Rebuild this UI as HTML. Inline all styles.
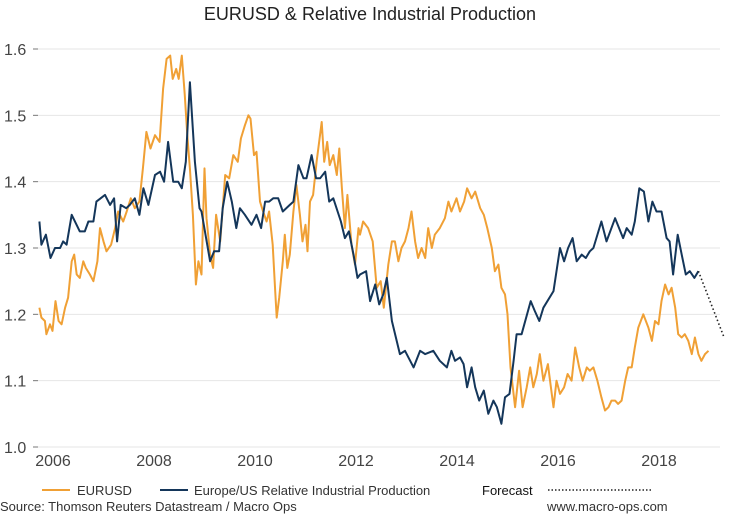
<!DOCTYPE html>
<html><head><meta charset="utf-8"><style>
body{margin:0;background:#fff;}
svg text{font-family:"Liberation Sans",Arial,sans-serif;}
</style></head><body>
<svg width="736" height="518" viewBox="0 0 736 518" xmlns="http://www.w3.org/2000/svg">
<text x="370" y="20" text-anchor="middle" font-size="18" fill="#222">EURUSD &amp; Relative Industrial Production</text>
<g id="grid"></g>
<g id="axes"></g>
<g id="series"></g>
<g>
<line x1="42" y1="490" x2="70" y2="490" stroke="#f0a035" stroke-width="2"/>
<text x="77" y="495" font-size="13" fill="#333">EURUSD</text>
<line x1="160" y1="490" x2="188" y2="490" stroke="#14365a" stroke-width="2"/>
<text x="194" y="495" font-size="13" fill="#333">Europe/US Relative Industrial Production</text>
<text x="482" y="495" font-size="13" fill="#111">Forecast</text>
<line x1="548" y1="490" x2="653" y2="490" stroke="#222" stroke-width="1.6" stroke-dasharray="1.5 2"/>
</g>
<text x="0" y="511" font-size="13" fill="#333">Source: Thomson Reuters Datastream / Macro Ops</text>
<text x="547" y="511" font-size="13" fill="#333">www.macro-ops.com</text>
</svg>
<script>
const yTicks=[1.0,1.1,1.2,1.3,1.4,1.5,1.6];
const yTickLabels=["1.0","1.1","1.2","1.3","1.4","1.5","1.6"];
const xTicks=[2006,2008,2010,2012,2014,2016,2018];
const xTickLabels=["2006","2008","2010","2012","2014","2016","2018"];
const ipDates=[2005.73,2005.77,2005.86,2005.95,2006.04,2006.14,2006.20,2006.27,2006.37,2006.53,2006.63,2006.70,2006.80,2006.86,2007.03,2007.13,2007.21,2007.27,2007.34,2007.45,2007.52,2007.62,2007.71,2007.79,2007.89,2008.02,2008.12,2008.20,2008.28,2008.38,2008.48,2008.55,2008.63,2008.71,2008.81,2008.90,2008.94,2009.11,2009.19,2009.29,2009.36,2009.45,2009.54,2009.63,2009.70,2009.80,2009.93,2010.03,2010.12,2010.20,2010.28,2010.36,2010.46,2010.55,2010.69,2010.76,2010.86,2010.96,2011.02,2011.12,2011.21,2011.29,2011.39,2011.47,2011.55,2011.70,2011.78,2011.86,2011.95,2012.03,2012.08,2012.20,2012.28,2012.38,2012.46,2012.54,2012.61,2012.71,2012.87,2012.97,2013.14,2013.27,2013.37,2013.53,2013.66,2013.80,2013.89,2013.96,2014.06,2014.13,2014.20,2014.29,2014.36,2014.44,2014.53,2014.62,2014.72,2014.79,2014.88,2014.95,2015.04,2015.12,2015.18,2015.28,2015.46,2015.54,2015.63,2015.71,2015.91,2016.04,2016.12,2016.20,2016.29,2016.37,2016.47,2016.55,2016.63,2016.70,2016.86,2016.96,2017.13,2017.29,2017.36,2017.46,2017.52,2017.61,2017.70,2017.79,2017.87,2017.95,2018.05,2018.15,2018.21,2018.28,2018.37,2018.45,2018.53,2018.61,2018.70,2018.78];
const ipValues=[1.34,1.305,1.32,1.285,1.30,1.30,1.31,1.305,1.35,1.325,1.325,1.34,1.34,1.37,1.38,1.365,1.375,1.31,1.365,1.36,1.365,1.375,1.35,1.39,1.365,1.41,1.415,1.40,1.46,1.40,1.40,1.39,1.43,1.55,1.43,1.36,1.355,1.28,1.295,1.295,1.36,1.40,1.37,1.33,1.36,1.35,1.335,1.35,1.33,1.37,1.37,1.375,1.375,1.355,1.365,1.37,1.425,1.405,1.405,1.44,1.405,1.405,1.415,1.37,1.375,1.34,1.315,1.325,1.29,1.255,1.26,1.265,1.22,1.245,1.215,1.23,1.255,1.19,1.14,1.145,1.12,1.145,1.14,1.145,1.13,1.12,1.145,1.13,1.135,1.125,1.09,1.12,1.09,1.07,1.085,1.05,1.07,1.06,1.035,1.075,1.08,1.13,1.17,1.17,1.22,1.205,1.19,1.21,1.235,1.30,1.28,1.30,1.315,1.28,1.29,1.285,1.295,1.30,1.34,1.31,1.345,1.315,1.33,1.32,1.34,1.39,1.385,1.34,1.37,1.355,1.355,1.315,1.31,1.26,1.32,1.29,1.26,1.265,1.255,1.265];
const forecastDates=[2018.78,2019.29];
const forecastValues=[1.265,1.165];
const fxDates=[2005.73,2005.77,2005.84,2005.87,2005.94,2005.99,2006.05,2006.11,2006.17,2006.24,2006.30,2006.37,2006.42,2006.47,2006.53,2006.60,2006.65,2006.73,2006.80,2006.88,2006.93,2007.00,2007.06,2007.15,2007.23,2007.29,2007.39,2007.46,2007.54,2007.62,2007.71,2007.78,2007.85,2007.93,2008.02,2008.11,2008.18,2008.25,2008.32,2008.37,2008.44,2008.49,2008.55,2008.61,2008.66,2008.71,2008.77,2008.83,2008.88,2008.94,2009.00,2009.04,2009.11,2009.17,2009.23,2009.31,2009.41,2009.49,2009.57,2009.66,2009.72,2009.80,2009.87,2009.91,2009.98,2010.03,2010.10,2010.16,2010.23,2010.28,2010.35,2010.40,2010.43,2010.48,2010.55,2010.59,2010.64,2010.69,2010.76,2010.82,2010.89,2010.94,2011.00,2011.04,2011.09,2011.15,2011.22,2011.32,2011.37,2011.43,2011.48,2011.55,2011.62,2011.67,2011.72,2011.78,2011.83,2011.91,2011.98,2012.05,2012.08,2012.14,2012.24,2012.33,2012.41,2012.49,2012.55,2012.64,2012.71,2012.77,2012.84,2012.90,2012.97,2013.04,2013.10,2013.17,2013.23,2013.30,2013.37,2013.43,2013.50,2013.56,2013.66,2013.76,2013.83,2013.89,2013.99,2014.06,2014.14,2014.20,2014.29,2014.36,2014.46,2014.53,2014.60,2014.69,2014.75,2014.82,2014.88,2014.95,2015.00,2015.06,2015.15,2015.23,2015.30,2015.38,2015.45,2015.51,2015.58,2015.64,2015.71,2015.80,2015.86,2015.91,2015.97,2016.04,2016.12,2016.19,2016.27,2016.34,2016.42,2016.49,2016.57,2016.63,2016.70,2016.78,2016.86,2016.93,2017.00,2017.06,2017.13,2017.19,2017.26,2017.33,2017.39,2017.46,2017.52,2017.59,2017.69,2017.79,2017.86,2017.92,2017.99,2018.05,2018.12,2018.19,2018.25,2018.32,2018.38,2018.45,2018.51,2018.58,2018.65,2018.71,2018.78,2018.84,2018.91,2018.98];
const fxValues=[1.21,1.195,1.19,1.17,1.185,1.175,1.22,1.19,1.185,1.21,1.225,1.28,1.29,1.26,1.255,1.28,1.27,1.26,1.25,1.28,1.33,1.31,1.295,1.305,1.33,1.355,1.34,1.355,1.375,1.36,1.37,1.42,1.475,1.45,1.47,1.46,1.54,1.585,1.59,1.555,1.57,1.555,1.59,1.53,1.47,1.42,1.35,1.245,1.28,1.26,1.42,1.345,1.29,1.27,1.35,1.31,1.41,1.405,1.44,1.43,1.465,1.485,1.50,1.495,1.44,1.445,1.37,1.355,1.34,1.355,1.305,1.235,1.195,1.225,1.28,1.32,1.27,1.29,1.355,1.395,1.35,1.31,1.335,1.295,1.37,1.38,1.43,1.49,1.43,1.46,1.425,1.44,1.41,1.45,1.39,1.33,1.38,1.305,1.275,1.33,1.32,1.34,1.33,1.31,1.24,1.25,1.21,1.275,1.31,1.31,1.28,1.30,1.31,1.33,1.355,1.31,1.285,1.30,1.285,1.33,1.30,1.32,1.33,1.345,1.37,1.355,1.375,1.355,1.37,1.39,1.375,1.385,1.36,1.35,1.33,1.30,1.265,1.275,1.24,1.23,1.20,1.12,1.06,1.115,1.06,1.09,1.12,1.09,1.11,1.14,1.10,1.125,1.09,1.06,1.10,1.08,1.09,1.11,1.10,1.15,1.12,1.10,1.12,1.115,1.12,1.10,1.075,1.055,1.06,1.07,1.07,1.065,1.07,1.10,1.12,1.12,1.15,1.18,1.20,1.18,1.16,1.19,1.185,1.22,1.245,1.23,1.24,1.21,1.17,1.165,1.17,1.16,1.14,1.165,1.14,1.13,1.14,1.145];

const NS='http://www.w3.org/2000/svg';
const X0=38,X1=720,Y0=447,Y1=49;
function xScale(t){return 53+(t-2006)*50.5;}
function yScale(v){return Y0-(v-1.0)/0.6*(Y0-Y1);}
function mk(tag,attrs,parent){const e=document.createElementNS(NS,tag);for(const k in attrs)e.setAttribute(k,attrs[k]);parent.appendChild(e);return e;}
const grid=document.getElementById('grid'),axes=document.getElementById('axes'),series=document.getElementById('series');
yTicks.forEach((v,i)=>{
  const y=yScale(v);
  const g=mk('line',{x1:X0,x2:X1,y1:y,y2:y,stroke:'#e6e6e6','stroke-width':1},grid);
  
  
  const tk=mk('line',{x1:33,x2:38,y1:y,y2:y,stroke:'#777','stroke-width':1},axes);
  
  
  const t=mk('text',{x:4,y:y+6,'font-size':16,fill:'#444'},axes);
  t.textContent=yTickLabels[i];
  
  
});
xTicks.forEach((v,i)=>{
  const t=mk('text',{x:xScale(v),y:466,'font-size':16,fill:'#444','text-anchor':'middle'},axes);
  t.textContent=xTickLabels[i];
  
  
});
function path(ds,vs){return ds.map((d,i)=>(i?'L':'M')+xScale(d).toFixed(1)+','+yScale(vs[i]).toFixed(1)).join('');}
const fx=mk('path',{d:path(fxDates,fxValues),fill:'none',stroke:'#f0a035','stroke-width':2,'stroke-linejoin':'round'},series);


const ip=mk('path',{d:path(ipDates,ipValues),fill:'none',stroke:'#14365a','stroke-width':2,'stroke-linejoin':'round'},series);


const fc=mk('path',{d:path(forecastDates,forecastValues),fill:'none',stroke:'#222','stroke-width':1.6,'stroke-dasharray':'1.5 2.5'},series);


</script>
</body></html>
